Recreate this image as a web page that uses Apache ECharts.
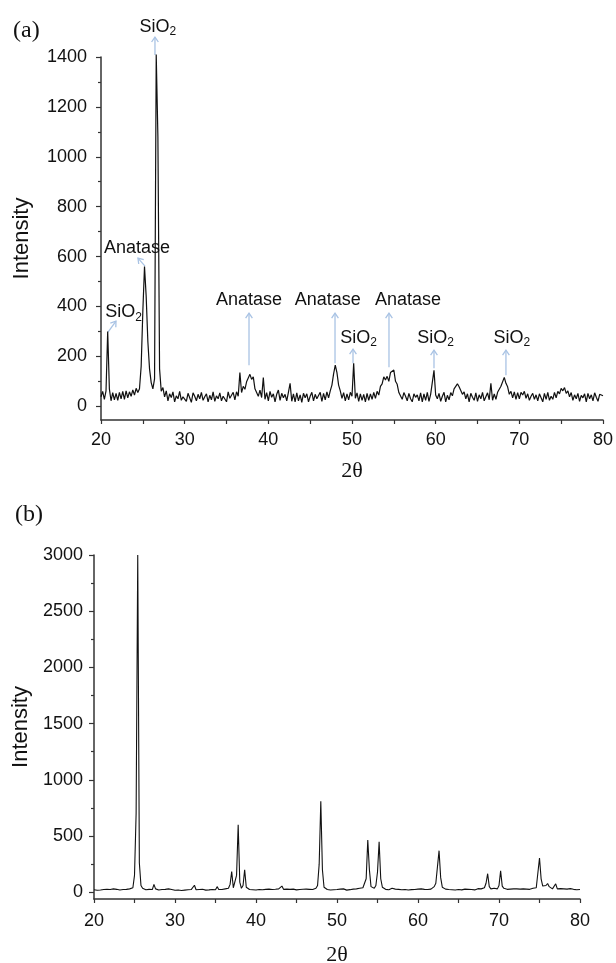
<!DOCTYPE html>
<html>
<head>
<meta charset="utf-8">
<script src="https://cdn.jsdelivr.net/npm/echarts@6/dist/echarts.min.js"></script>
<style>
  html, body { margin: 0; padding: 0; background: #fff; }
  #main { width: 616px; height: 963px; }
</style>
</head>
<body>
<div id="main"></div>
<script>
// scan grid (2θ, degrees)
var thetaStart = 20, thetaStep = 0.2;

// (a) intensity, one value per 0.2°, rows of 2°
var intensityA = [
  38, 60, 28, 62, 300, 70, 22, 55, 26, 52,        // 20
  24, 56, 30, 60, 28, 62, 34, 58, 40, 66,         // 22
  45, 72, 55, 70, 160, 380, 560, 440, 260, 150,   // 24
  95, 70, 110, 1410, 1080, 150, 60, 75, 38, 62,   // 26
  22, 50, 35, 58, 18, 42, 30, 60, 24, 38,         // 28
  45, 20, 52, 34, 16, 54, 40, 22, 48, 30,         // 30
  56, 24, 38, 50, 18, 44, 26, 58, 20, 42,         // 32
  30, 54, 22, 40, 48, 18, 58, 32, 26, 56,         // 34
  26, 58, 40, 135, 55, 80, 68, 98, 100, 128,      // 36
  108, 118, 70, 75, 40, 65, 35, 115, 28, 55,      // 38
  22, 60, 36, 50, 18, 48, 65, 24, 52, 34,         // 40
  48, 22, 56, 92, 20, 50, 18, 54, 22, 46,         // 42
  16, 52, 34, 50, 18, 40, 56, 22, 48, 30,         // 44
  24, 56, 20, 52, 26, 58, 34, 62, 85, 130,        // 46
  165, 135, 85, 62, 32, 55, 22, 50, 26, 56,       // 48
  40, 172, 32, 54, 20, 50, 24, 48, 18, 52,        // 50
  24, 50, 28, 56, 32, 60, 45, 80, 90, 118,        // 52
  105, 120, 100, 135, 140, 145, 100, 88, 55, 60,  // 54
  28, 55, 40, 22, 52, 30, 18, 50, 36, 46,         // 56
  22, 54, 18, 50, 24, 56, 20, 48, 40, 144,        // 58
  45, 30, 52, 20, 40, 56, 18, 44, 26, 55,         // 60
  42, 70, 68, 90, 78, 82, 48, 58, 30, 50,         // 62
  18, 52, 36, 24, 54, 20, 46, 30, 56, 22,         // 64
  22, 54, 26, 92, 24, 50, 28, 56, 48, 80,         // 66
  88, 116, 92, 78, 48, 60, 34, 58, 28, 55,        // 68
  30, 56, 45, 60, 32, 50, 24, 40, 52, 28,         // 70
  46, 22, 50, 34, 18, 52, 28, 56, 24, 40,         // 72
  28, 56, 34, 60, 50, 72, 62, 75, 52, 62,         // 74
  38, 55, 24, 46, 30, 52, 20, 44, 34, 50,         // 76
  18, 52, 30, 46, 22, 54, 36, 20, 48, 56,         // 78
  42                                              // 80
];

// (b) intensity, same grid
var intensityB = [
  22, 30, 18, 26, 20, 28, 24, 16, 27, 21,         // 20
  25, 18, 30, 22, 26, 34, 20, 28, 24, 32,         // 22
  26, 22, 30, 25, 40, 150, 700, 3000, 260, 60,    // 24
  35, 28, 22, 30, 26, 35, 24, 70, 30, 25,         // 26
  20, 28, 24, 18, 26, 22, 30, 19, 25, 21,         // 28
  18, 24, 20, 27, 16, 23, 19, 26, 22, 20,         // 30
  24, 28, 62, 22, 18, 25, 20, 27, 23, 19,         // 32
  26, 21, 28, 24, 30, 22, 50, 25, 28, 24,         // 34
  22, 30, 26, 35, 70, 185, 40, 35, 150, 600,      // 36
  90, 35, 60, 200, 45, 28, 24, 30, 22, 26,        // 38
  20, 28, 24, 30, 22, 18, 26, 21, 28, 23,         // 40
  25, 19, 27, 22, 30, 24, 55, 26, 20, 28,         // 42
  22, 26, 19, 28, 24, 21, 30, 25, 20, 27,         // 44
  23, 28, 21, 26, 30, 24, 28, 35, 60, 250,        // 46
  810, 200, 45, 30, 24, 28, 20, 26, 22, 30,       // 48
  24, 20, 28, 22, 30, 25, 19, 27, 23, 21,         // 50
  28, 24, 30, 22, 35, 28, 40, 55, 120, 465,       // 52
  200, 50, 40, 35, 60, 180, 450, 120, 45, 30,     // 54
  26, 30, 22, 28, 35, 24, 28, 21, 26, 30,         // 56
  22, 27, 24, 30, 20, 26, 23, 28, 25, 21,         // 58
  28, 24, 30, 22, 26, 30, 25, 32, 28, 35,         // 60
  50, 80, 70, 370, 130, 45, 35, 28, 30, 24,       // 62
  28, 22, 26, 20, 27, 24, 30, 21, 25, 28,         // 64
  22, 26, 30, 24, 28, 21, 27, 32, 25, 30,         // 66
  35, 40, 80, 165, 50, 30, 28, 35, 26, 30,        // 68
  60, 190, 55, 35, 30, 26, 32, 28, 24, 30,        // 70
  26, 30, 22, 28, 25, 30, 24, 28, 32, 26,         // 72
  30, 35, 28, 40, 55, 305, 120, 55, 48, 60,       // 74
  78, 50, 35, 30, 28, 75, 30, 26, 32, 24,         // 76
  30, 22, 28, 25, 32, 20, 26, 30, 22, 28,         // 78
  25                                              // 80
];

// tick labels
var xTicks = [20, 30, 40, 50, 60, 70, 80];
var yTicksA = [0, 200, 400, 600, 800, 1000, 1200, 1400];
var yMinorA = [100, 300, 500, 700, 900, 1100, 1300];
var yTicksB = [0, 500, 1000, 1500, 2000, 2500, 3000];
var yMinorB = [250, 750, 1250, 1750, 2250, 2750];

// peak annotations in panel (a): label text, label centre [2θ, I], arrow from -> to
var peakNames = ['SiO2', 'Anatase', 'SiO2', 'Anatase', 'Anatase', 'Anatase', 'SiO2', 'SiO2', 'SiO2'];
var peakLabelAt = [[26.8, 1520], [24.3, 634], [22.7, 377], [37.7, 425], [47.1, 425], [56.7, 425], [50.8, 273], [60.0, 273], [69.1, 273]];
var arrowFrom = [[26.45, 1408], [25.26, 562], [20.84, 297], [37.69, 164], [47.97, 172], [54.42, 156], [50.12, 172], [59.8, 152], [68.4, 124]];
var arrowTo   = [[26.45, 1480], [24.42, 594], [21.79, 341], [37.69, 373], [47.97, 373], [54.42, 373], [50.12, 229], [59.8, 225], [68.4, 225]];

var sans = "'Liberation Sans', Arial, sans-serif";
var serif = "'Liberation Serif', 'Times New Roman', serif";
var axisColor = '#333';
var textColor = '#111';
var arrowColor = '#a9c3e4';

function pairs(values) {
  return values.map(function (v, i) {
    return [+(thetaStart + i * thetaStep).toFixed(1), v];
  });
}

function xAxisFor(gridIndex, gap, margin) {
  return {
    gridIndex: gridIndex,
    type: 'value',
    min: 20, max: 80, interval: 10,
    name: '2θ',
    nameLocation: 'middle',
    nameGap: gap,
    nameTextStyle: { fontFamily: serif, fontSize: 22, color: textColor },
    axisLine: { onZero: false, lineStyle: { color: axisColor, width: 1.5 } },
    axisTick: { show: true, length: 4, lineStyle: { color: axisColor, width: 1.2 } },
    minorTick: { show: true, splitNumber: 2, length: 4, lineStyle: { color: axisColor, width: 1.2 } },
    axisLabel: { margin: margin, fontSize: 18, fontFamily: sans, color: textColor },
    splitLine: { show: false },
    minorSplitLine: { show: false }
  };
}

function yAxisFor(gridIndex, min, max, ticks, gap, margin) {
  return {
    gridIndex: gridIndex,
    type: 'value',
    position: 'left',
    min: min, max: max,
    name: 'Intensity',
    nameLocation: 'middle',
    nameGap: gap,
    nameTextStyle: { fontFamily: sans, fontSize: 22, color: textColor },
    axisLine: { show: true, lineStyle: { color: axisColor, width: 1.5 } },
    axisTick: { show: true, length: 5, customValues: ticks, lineStyle: { color: axisColor, width: 1.2 } },
    axisLabel: {
      margin: margin, customValues: ticks, fontSize: 18, fontFamily: sans, color: textColor,
      formatter: function (v) { return String(v); }
    },
    splitLine: { show: false }
  };
}

function minorAxisFor(gridIndex, min, max, ticks) {
  return {
    gridIndex: gridIndex,
    type: 'value',
    position: 'left',
    offset: 0,
    min: min, max: max,
    axisLine: { show: false },
    axisTick: { show: true, length: 3, customValues: ticks, lineStyle: { color: axisColor, width: 1.2 } },
    axisLabel: { show: false },
    splitLine: { show: false }
  };
}

var chart = echarts.init(document.getElementById('main'));

var option = {
  backgroundColor: '#fff',
  animation: false,
  title: [
    { text: '(a)', left: 8, top: 14, textStyle: { fontFamily: serif, fontSize: 24, fontWeight: 'normal', color: textColor } },
    { text: '(b)', left: 10, top: 498, textStyle: { fontFamily: serif, fontSize: 24, fontWeight: 'normal', color: textColor } }
  ],
  grid: [
    { left: 101, right: 13, top: 57, bottom: 543, outerBoundsMode: 'none' },
    { left: 94, right: 36, top: 555, bottom: 64, outerBoundsMode: 'none' }
  ],
  xAxis: [xAxisFor(0, 40, 11), xAxisFor(1, 45, 13)],
  yAxis: [
    yAxisFor(0, -55, 1400, yTicksA, 68, 14),
    minorAxisFor(0, -55, 1400, yMinorA),
    yAxisFor(1, -60, 3000, yTicksB, 62, 11),
    minorAxisFor(1, -60, 3000, yMinorB)
  ],
  series: [
    {
      name: 'a',
      type: 'line',
      xAxisIndex: 0,
      yAxisIndex: 0,
      data: pairs(intensityA),
      showSymbol: false,
      clip: false,
      lineStyle: { color: '#111', width: 1.2 }
    },
    {
      name: 'b',
      type: 'line',
      xAxisIndex: 1,
      yAxisIndex: 2,
      data: pairs(intensityB),
      showSymbol: false,
      clip: false,
      lineStyle: { color: '#111', width: 1.1 }
    }
  ]
};

chart.setOption(option);

// peak labels and arrows, placed through the panel (a) scales
function toPx(p) {
  return chart.convertToPixel({ xAxisIndex: 0, yAxisIndex: 0 }, p);
}

var graphics = [];
peakNames.forEach(function (name, i) {
  var a = toPx(arrowFrom[i]);
  var b = toPx(arrowTo[i]);
  var dx = b[0] - a[0], dy = b[1] - a[1];
  var len = Math.sqrt(dx * dx + dy * dy);
  var ux = dx / len, uy = dy / len;
  var head = 6, ang = 0.6;
  var c = Math.cos(ang), s = Math.sin(ang);
  var l1 = [b[0] - head * (ux * c - uy * s), b[1] - head * (uy * c + ux * s)];
  var l2 = [b[0] - head * (ux * c + uy * s), b[1] - head * (uy * c - ux * s)];
  graphics.push({
    type: 'line',
    silent: true,
    shape: { x1: a[0], y1: a[1], x2: b[0], y2: b[1] },
    style: { stroke: arrowColor, lineWidth: 1.3 }
  });
  graphics.push({
    type: 'polyline',
    silent: true,
    shape: { points: [l1, b, l2] },
    style: { stroke: arrowColor, lineWidth: 1.3, fill: null }
  });
  var t = toPx(peakLabelAt[i]);
  graphics.push({
    type: 'text',
    silent: true,
    x: t[0],
    y: t[1],
    style: {
      text: name === 'SiO2' ? '{t|SiO}{s|2}' : '{t|' + name + '}',
      align: 'center',
      verticalAlign: 'middle',
      rich: {
        t: { fontFamily: sans, fontSize: 18, fill: textColor, lineHeight: 22 },
        s: { fontFamily: sans, fontSize: 12, fill: textColor, lineHeight: 12, verticalAlign: 'bottom' }
      }
    }
  });
});

chart.setOption({ graphic: graphics });
</script>
</body>
</html>
